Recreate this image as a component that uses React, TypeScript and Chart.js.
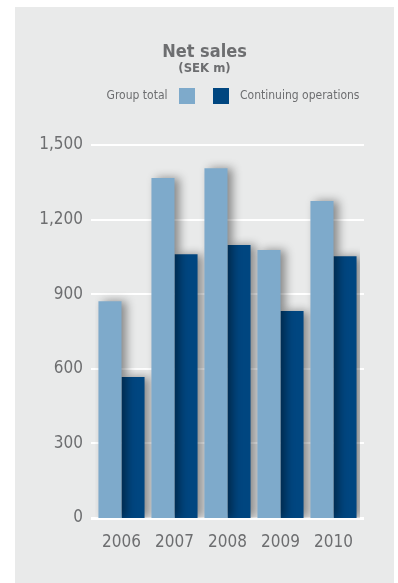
import React, { useEffect, useRef } from "react";
import { Chart, registerables } from "chart.js";

Chart.register(...registerables);

const years = ["2006", "2007", "2008", "2009", "2010"];
const groupTotal = [872, 1367, 1407, 1078, 1275];
const continuing = [567, 1061, 1098, 832, 1053];
const yTickValues = [0, 300, 600, 900, 1200, 1500];
const titleText = "Net sales";
const subtitleText = "(SEK m)";
const legendLabels = ["Group total", "Continuing operations"];

const LIGHT = "#7eaacb";
const DARK = "#004680";
const TEXT = "#6d6e70";
const BG = "#e9eaea";
const FONT = "'Liberation Sans Narrow', 'DejaVu Sans Condensed', 'Open Sans', sans-serif";

const decorPlugin = {
  id: "decor",
  beforeDatasetsDraw(chart: any) {
    const ctx = chart.ctx;
    const y = chart.scales.y;
    const a = chart.chartArea;
    ctx.save();
    ctx.strokeStyle = "#ffffff";
    ctx.lineWidth = 2;
    yTickValues.forEach((v) => {
      const py = Math.round(y.getPixelForValue(v));
      ctx.beginPath();
      ctx.moveTo(a.left - 4, py);
      ctx.lineTo(a.right + 4, py);
      ctx.stroke();
    });
    ctx.restore();
    ctx.save();
    ctx.shadowColor = "rgba(0,0,0,0.42)";
    ctx.shadowBlur = 10;
    ctx.shadowOffsetX = 5;
    ctx.shadowOffsetY = 0;
  },
  afterDatasetsDraw(chart: any) {
    chart.ctx.restore();
    const ctx = chart.ctx;
    const y = chart.scales.y;
    const a = chart.chartArea;
    ctx.save();
    ctx.strokeStyle = "#ffffff";
    ctx.lineWidth = 2;
    const py = Math.round(y.getPixelForValue(0)) + 1;
    ctx.beginPath();
    ctx.moveTo(a.left - 4, py);
    ctx.lineTo(a.right + 4, py);
    ctx.stroke();
    ctx.restore();
  },
  afterDraw(chart: any) {
    const ctx = chart.ctx;
    const cx = chart.width / 2;
    ctx.save();
    ctx.fillStyle = TEXT;
    ctx.textAlign = "center";
    ctx.textBaseline = "alphabetic";
    ctx.font = `bold 18px ${FONT}`;
    ctx.fillText(titleText, cx, 50);
    ctx.font = `bold 13px ${FONT}`;
    ctx.fillText(subtitleText, cx, 65);
    ctx.font = `12px ${FONT}`;
    ctx.textBaseline = "middle";
    ctx.textAlign = "right";
    ctx.fillText(legendLabels[0], cx - 37, 89);
    ctx.fillStyle = LIGHT;
    ctx.fillRect(cx - 25.5, 81, 16, 16);
    ctx.fillStyle = DARK;
    ctx.fillRect(cx + 8.5, 81, 16, 16);
    ctx.fillStyle = TEXT;
    ctx.textAlign = "left";
    ctx.fillText(legendLabels[1], cx + 35.5, 89);
    ctx.restore();
  },
};

export default function App() {
  const ref = useRef<HTMLCanvasElement>(null);
  useEffect(() => {
    if (!ref.current) return;
    const chart = new Chart(ref.current, {
      type: "bar",
      data: {
        labels: years,
        datasets: [
          { label: legendLabels[0], data: groupTotal, backgroundColor: LIGHT, borderWidth: 0 },
          { label: legendLabels[1], data: continuing, backgroundColor: DARK, borderWidth: 0 },
        ],
      },
      options: {
        animation: false,
        responsive: false,
        layout: { padding: { top: 138, left: 0, right: 34, bottom: 25 } },
        plugins: { legend: { display: false }, title: { display: false }, tooltip: { enabled: false } },
        datasets: { bar: { categoryPercentage: 0.87, barPercentage: 1 } },
        scales: {
          x: {
            grid: { display: false, drawTicks: false },
            border: { display: false },
            ticks: { color: TEXT, font: { family: FONT, size: 17 }, padding: 14 },
            afterFit: (s: any) => { s.height = 40; },
          },
          y: {
            min: 0,
            max: 1500,
            grid: { display: false, drawTicks: false },
            border: { display: false },
            ticks: {
              stepSize: 300,
              color: TEXT,
              font: { family: FONT, size: 17 },
              padding: 12,
              callback: (v: any) => Number(v).toLocaleString("en-US"),
            },
            afterFit: (s: any) => { s.width = 80; },
          },
        },
      },
      plugins: [decorPlugin],
    } as any);
    return () => chart.destroy();
  }, []);
  return (
    <div style={{ position: "absolute", left: 15, top: 7, width: 379, height: 576, background: BG }}>
      <canvas ref={ref} width={379} height={576} />
    </div>
  );
}
